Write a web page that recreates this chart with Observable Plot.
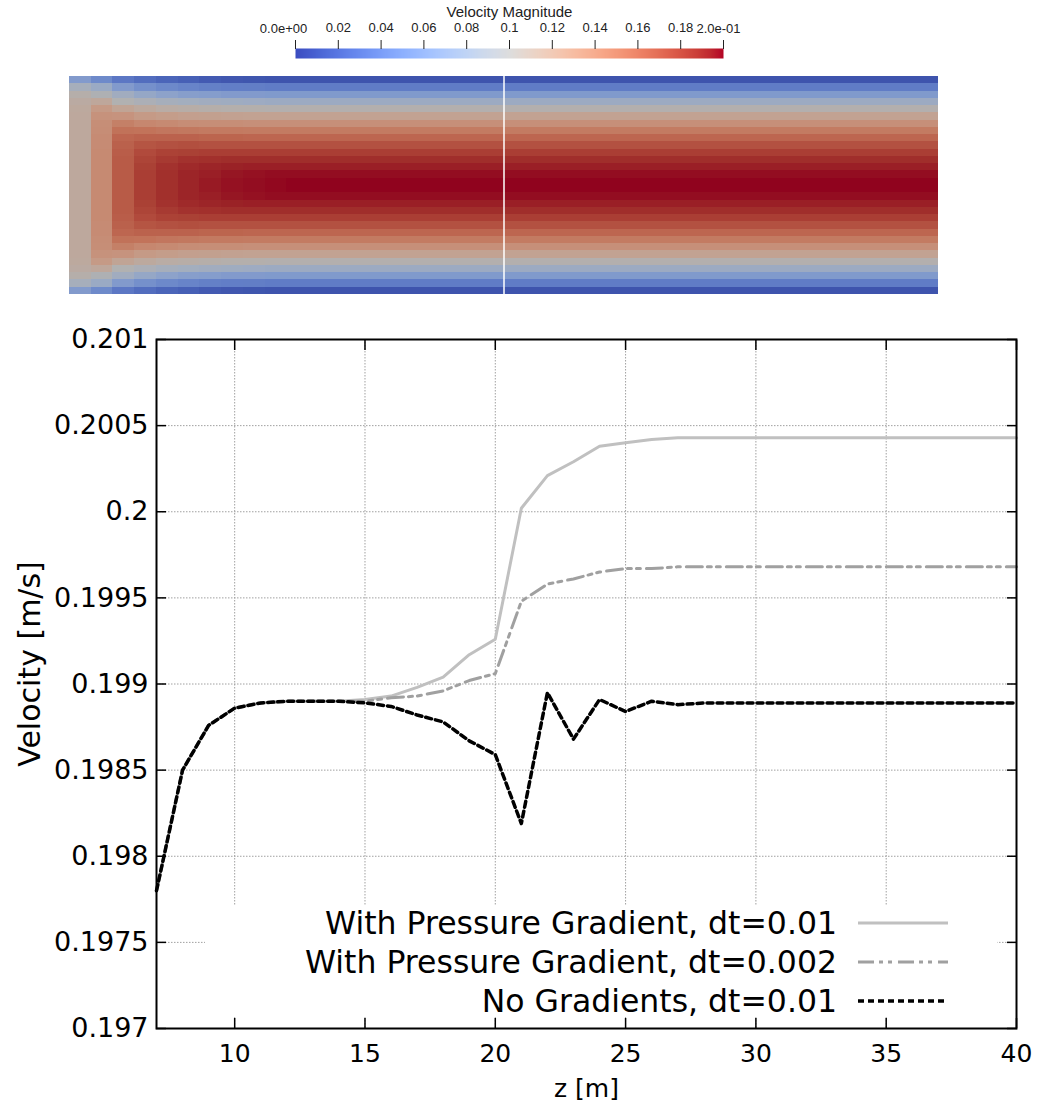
<!DOCTYPE html>
<html><head><meta charset="utf-8">
<script src="https://cdn.jsdelivr.net/npm/d3@7"></script>
<script src="https://cdn.jsdelivr.net/npm/@observablehq/plot@0.6"></script>
<style>
body{margin:0;background:#fff;}
#root{position:relative;width:1041px;height:1108px;background:#fff;}
#root > div{position:absolute;left:0;}
#cbar{top:0;}
#field{top:76px;left:69px !important;}
#chart{top:300px;}
</style></head>
<body><div id="root"><div id="cbar"></div><div id="field"></div><div id="chart"></div></div>
<script>
// ---------- line chart data ----------
const zValues = [7,8,9,10,11,12,13,14,15,16,17,18,19,20,21,22,23,24,25,26,27,28,29,30,31,32,33,34,35,36,37,38,39,40];
const velGradDt01 = [0.19780,0.19850,0.19876,0.19886,0.19889,0.19890,0.19890,0.19890,0.19891,0.19893,0.19898,0.19904,0.19917,0.19926,0.20002,0.20021,0.20029,0.20038,0.20040,0.20042,0.20043,0.20043,0.20043,0.20043,0.20043,0.20043,0.20043,0.20043,0.20043,0.20043,0.20043,0.20043,0.20043,0.20043];
const velGradDt002 = [0.19780,0.19850,0.19876,0.19886,0.19889,0.19890,0.19890,0.19890,0.19890,0.19892,0.19893,0.19896,0.19902,0.19906,0.19948,0.19958,0.19961,0.19965,0.19967,0.19967,0.19968,0.19968,0.19968,0.19968,0.19968,0.19968,0.19968,0.19968,0.19968,0.19968,0.19968,0.19968,0.19968,0.19968];
const velNoGrad = [0.19780,0.19850,0.19876,0.19886,0.19889,0.19890,0.19890,0.19890,0.19889,0.19887,0.19882,0.19878,0.19867,0.19859,0.19819,0.19895,0.19868,0.19891,0.19884,0.19890,0.19888,0.19889,0.19889,0.19889,0.19889,0.19889,0.19889,0.19889,0.19889,0.19889,0.19889,0.19889,0.19889,0.19889];
const seriesNames = ["With Pressure Gradient, dt=0.01","With Pressure Gradient, dt=0.002","No Gradients, dt=0.01"];
const xTicks = [10,15,20,25,30,35,40];
const yTicks = [0.197,0.1975,0.198,0.1985,0.199,0.1995,0.2,0.2005,0.201];
const xLabel = "z [m]";
const yLabel = "Velocity [m/s]";

// ---------- colour bar ----------
const cbTitle = "Velocity Magnitude";
const cbTicks = [0,0.02,0.04,0.06,0.08,0.1,0.12,0.14,0.16,0.18,0.2];
const cbLabels = ["0.0e+00","0.02","0.04","0.06","0.08","0.1","0.12","0.14","0.16","0.18","2.0e-01"];
const coolWarmStops = ["#3b4cc0","#445acc","#4d68d7","#5775e1","#6282ea","#6c8ef1","#779af7","#82a5fb","#8db0fe","#98b9ff","#a3c2ff","#aec9fd","#b8d0f9","#c2d5f4","#cdd9ec","#d5dbe6","#dddddd","#e5d8d1","#ecd3c5","#f1ccb9","#f5c4ad","#f7bba0","#f7b194","#f7a687","#f49a7b","#f18d6f","#ec7f63","#e57058","#de604d","#d55042","#cb3e38","#c0282f","#b40426"];

// ---------- velocity field (cell values, wall -> centre half profiles) ----------
const fieldCols = 40;
const fieldRows = 30;
const sliceZ = 20;
const inletProfiles = [
  [0.062,0.090,0.104,0.110,0.112,0.113,0.113,0.113,0.113,0.113,0.113,0.113,0.113,0.113,0.113],
  [0.048,0.080,0.098,0.114,0.128,0.134,0.137,0.138,0.139,0.139,0.140,0.140,0.140,0.140,0.140],
  [0.035,0.062,0.085,0.100,0.118,0.133,0.147,0.156,0.162,0.165,0.167,0.168,0.168,0.168,0.168],
  [0.028,0.053,0.076,0.095,0.112,0.128,0.142,0.155,0.164,0.171,0.176,0.179,0.181,0.182,0.182],
  [0.023,0.047,0.070,0.090,0.108,0.125,0.140,0.153,0.164,0.173,0.180,0.184,0.187,0.188,0.188],
  [0.020,0.044,0.066,0.087,0.106,0.123,0.138,0.152,0.164,0.174,0.181,0.187,0.190,0.192,0.192],
  [0.017,0.041,0.064,0.085,0.104,0.122,0.137,0.151,0.163,0.173,0.182,0.188,0.192,0.194,0.195],
  [0.015,0.040,0.062,0.084,0.103,0.121,0.137,0.151,0.163,0.173,0.182,0.189,0.193,0.196,0.197],
  [0.014,0.039,0.062,0.083,0.103,0.120,0.136,0.150,0.162,0.173,0.182,0.189,0.194,0.197,0.198],
  [0.013,0.038,0.061,0.082,0.102,0.120,0.136,0.150,0.162,0.173,0.182,0.189,0.194,0.198,0.199]
];
const developedProfile = [0.013,0.038,0.061,0.082,0.102,0.120,0.136,0.150,0.162,0.173,0.182,0.189,0.194,0.198,0.200];

const coolWarm = d3.piecewise(d3.interpolateRgb, coolWarmStops);
const shade = 0.8;
const coolWarmShaded = t => { const c = d3.rgb(coolWarm(t)); return d3.rgb(c.r*shade, c.g*shade, c.b*shade).toString(); };

// colour bar
const cbFmt = d => { const i = cbTicks.indexOf(d); return (i === 0 || i === cbTicks.length-1) ? "" : cbLabels[i]; };
const cbPlot = Plot.plot({
  width: 1041, height: 62,
  marginLeft: 295, marginRight: 318, marginTop: 48, marginBottom: 4,
  style: {fontFamily: "'Liberation Sans', Arial, sans-serif", background: "transparent", color: "#222"},
  x: {domain: [0, 0.2], axis: null},
  y: {domain: [0, 1], axis: null},
  color: {type: "linear", domain: [0, 0.2], interpolate: coolWarm},
  marks: [
    Plot.raster({x1: 0, x2: 0.2, y1: 0, y2: 1, fill: (x, y) => x}),
    Plot.axisX(cbTicks, {anchor: "top", tickSize: 9, tickPadding: 8, tickFormat: cbFmt, fontSize: 13, label: null, stroke: "#222"}),
    Plot.text([cbTicks[0]], {x: d => d, text: () => cbLabels[0], frameAnchor: "top", dy: -25, dx: -12, fontSize: 13, fill: "#222"}),
    Plot.text([cbTicks[cbTicks.length-1]], {x: d => d, text: () => cbLabels[cbLabels.length-1], frameAnchor: "top", dy: -25, dx: -5, fontSize: 13, fill: "#222"}),
    Plot.text([cbTitle], {frameAnchor: "top", dy: -42, fontSize: 15, fill: "#222"})
  ]
});
document.getElementById("cbar").append(cbPlot);

// field
const field = [];
for (let c = 0; c < fieldCols; c++) {
  const half = c < inletProfiles.length ? inletProfiles[c] : developedProfile;
  for (let r = 0; r < fieldRows; r++) {
    const k = r < fieldRows/2 ? r : fieldRows - 1 - r;
    field.push({z0: c, z1: c + 1, r0: r, r1: r + 1, v: half[k]});
  }
}
const fieldPlot = Plot.plot({
  width: 869, height: 218, margin: 0,
  x: {domain: [0, fieldCols], axis: null},
  y: {domain: [0, fieldRows], axis: null},
  color: {type: "linear", domain: [0, 0.2], interpolate: coolWarmShaded},
  marks: [
    Plot.rect(field, {x1: "z0", x2: "z1", y1: "r0", y2: "r1", fill: "v", shapeRendering: "crispEdges"}),
    Plot.ruleX([sliceZ], {stroke: "white", strokeWidth: 1.5})
  ]
});
document.getElementById("field").append(fieldPlot);

// main chart
const series = [
  {name: seriesNames[0], values: velGradDt01, stroke: "#c0c0c0", dash: null},
  {name: seriesNames[1], values: velGradDt002, stroke: "#a0a0a0", dash: "16,5,4,5,4,6"},
  {name: seriesNames[2], values: velNoGrad, stroke: "#000000", dash: "6,4"}
];
const lineData = series.map(s => zValues.map((z, i) => ({z, v: s.values[i]})));

function legendMark(index, scales, values, dims) {
  const g = d3.create("svg:g");
  const right = dims.width - dims.marginRight;
  const bottom = dims.height - dims.marginBottom;
  g.append("rect").attr("x", 205).attr("y", bottom - 123).attr("width", right - 19 - 205).attr("height", 112).attr("fill", "white");
  series.forEach((s, i) => {
    const y = bottom - 105 + i * 39;
    g.append("text").attr("x", right - 179).attr("y", y).attr("dy", "0.35em")
      .attr("text-anchor", "end").attr("font-size", 31.5).attr("fill", "black").text(s.name);
    g.append("line").attr("x1", right - 158).attr("x2", right - 68).attr("y1", y).attr("y2", y)
      .attr("stroke", s.stroke).attr("stroke-width", s.dash === "6,4" ? 3.5 : 3).attr("stroke-dasharray", s.dash);
  });
  return g.node();
}

const gridStyle = {stroke: "#a0a0a0", strokeOpacity: 1, strokeWidth: 1, strokeDasharray: "1.5,1.5"};
const chart = Plot.plot({
  width: 1041, height: 808,
  marginLeft: 156, marginRight: 25, marginTop: 39, marginBottom: 80,
  style: {fontFamily: "'DejaVu Sans', sans-serif", fontSize: "25px", color: "black", background: "transparent"},
  x: {domain: [7, 40]},
  y: {domain: [0.197, 0.201]},
  marks: [
    Plot.gridX(xTicks, gridStyle),
    Plot.gridY(yTicks, gridStyle),
    legendMark,
    ...lineData.map((d, i) => Plot.line(d, {x: "z", y: "v", stroke: series[i].stroke, strokeWidth: i === 2 ? 3.5 : 3, strokeDasharray: series[i].dash})),
    Plot.axisX(xTicks, {anchor: "bottom", tickSize: 0, tickPadding: 16, label: null, fontSize: 25}),
    Plot.axisY(yTicks, {anchor: "left", tickSize: 0, tickPadding: 8, label: null, fontSize: 27, tickFormat: d => String(+d.toFixed(4))}),
    Plot.axisX(xTicks, {anchor: "bottom", tickSize: -10, tickFormat: () => "", label: null, strokeWidth: 1.5}),
    Plot.axisX(xTicks, {anchor: "top", tickSize: -10, tickFormat: () => "", label: null, strokeWidth: 1.5}),
    Plot.axisY(yTicks, {anchor: "left", tickSize: -10, tickFormat: () => "", label: null, strokeWidth: 1.5}),
    Plot.axisY(yTicks, {anchor: "right", tickSize: -10, tickFormat: () => "", label: null, strokeWidth: 1.5}),
    Plot.frame({stroke: "black", strokeWidth: 2}),
    Plot.text([yLabel], {frameAnchor: "left", textAnchor: "middle", dx: -126, dy: -20, rotate: -90, fontSize: 30}),
    Plot.text([xLabel], {frameAnchor: "bottom", dy: 68, fontSize: 25})
  ]
});
document.getElementById("chart").append(chart);
</script>
</body></html>
